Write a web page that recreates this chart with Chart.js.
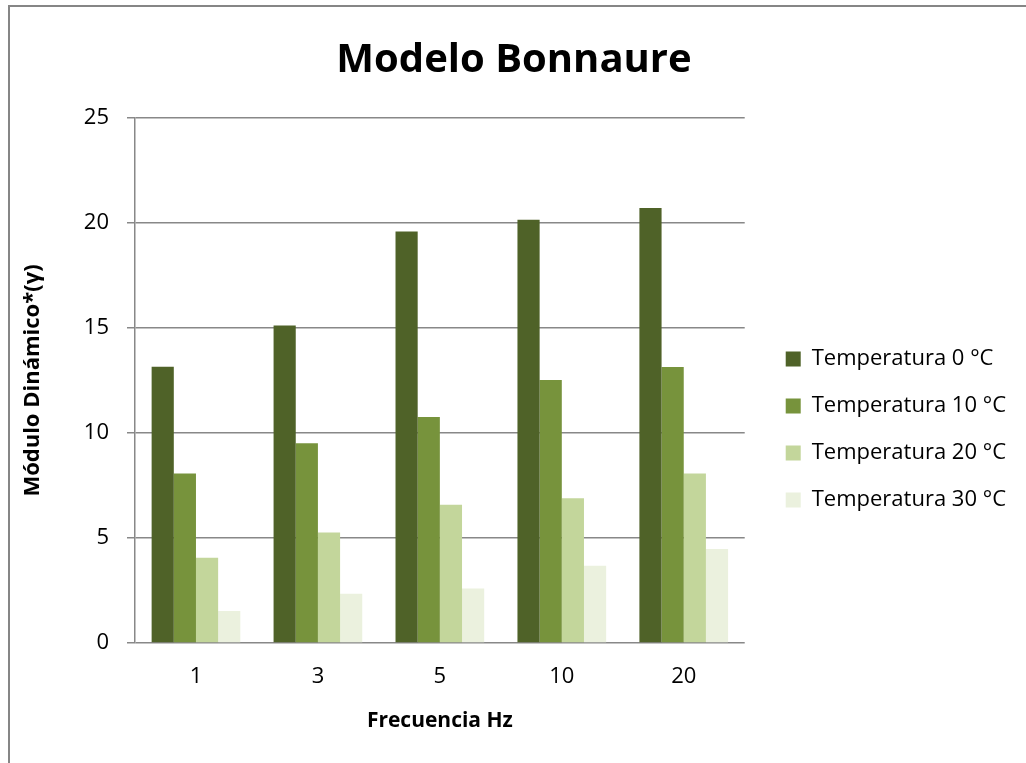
<!DOCTYPE html>
<html lang="es">
<head>
    <meta charset="UTF-8">
    <title>Modelo Bonnaure</title>
    <script src="https://cdn.jsdelivr.net/npm/chart.js"></script>
    <style>
        body { margin: 0; background: #fff; }
        canvas { display: block; }
    </style>
</head>
<body>
    <canvas id="grafico" width="1026" height="763"></canvas>

    <script>
        // datos
        const frecuencias = ['1', '3', '5', '10', '20'];
        const temp0 = [13.15, 15.12, 19.59, 20.16, 20.71];
        const temp10 = [8.07, 9.51, 10.76, 12.52, 13.14];
        const temp20 = [4.06, 5.26, 6.58, 6.89, 8.07];
        const temp30 = [1.52, 2.35, 2.6, 3.68, 4.48];
        const nombres = ['Temperatura 0 °C', 'Temperatura 10 °C', 'Temperatura 20 °C', 'Temperatura 30 °C'];
        const colores = ['#4F6228', '#77933C', '#C3D69B', '#EBF1DE'];
        const ticksY = [0, 5, 10, 15, 20, 25];

        const fuente = '"Open Sans", Lato, sans-serif';

        // marco gris del gráfico (solo arriba e izquierda se ven)
        const marco = {
            id: 'marco',
            beforeDraw(chart) {
                const c = chart.ctx;
                c.save();
                c.fillStyle = '#fff';
                c.fillRect(0, 0, chart.width, chart.height);
                c.strokeStyle = '#868686';
                c.lineWidth = 2;
                c.beginPath();
                c.moveTo(9, chart.height);
                c.lineTo(9, 6);
                c.lineTo(chart.width, 6);
                c.stroke();
                c.restore();
            }
        };

        const series = [temp0, temp10, temp20, temp30];

        new Chart(document.getElementById('grafico'), {
            type: 'bar',
            data: {
                labels: frecuencias,
                datasets: series.map((d, i) => ({
                    label: nombres[i],
                    data: d,
                    backgroundColor: colores[i],
                    borderWidth: 0,
                    categoryPercentage: 4 / 5.5,
                    barPercentage: 1
                }))
            },
            options: {
                responsive: false,
                animation: false,
                layout: { padding: { left: 12, right: 10, top: 0, bottom: 0 } },
                plugins: {
                    title: {
                        display: true,
                        text: 'Modelo Bonnaure',
                        color: '#000',
                        font: { family: fuente, size: 40, weight: 'bold' },
                        padding: { top: 37, bottom: 33 }
                    },
                    legend: {
                        position: 'right',
                        maxWidth: 400,
                        title: { display: true, text: ' ', font: { size: 10 }, padding: { top: 84, bottom: 0 } },
                        labels: {
                            boxWidth: 15,
                            boxHeight: 15,
                            padding: 25,
                            color: '#000',
                            font: { family: fuente, size: 22 }
                        }
                    },
                    tooltip: { enabled: false }
                },
                scales: {
                    x: {
                        afterFit: s => { s.height = 120; },
                        grid: { display: false, drawTicks: false },
                        border: { display: false },
                        ticks: { color: '#000', padding: 21, font: { family: fuente, size: 22 } },
                        title: {
                            display: true,
                            text: 'Frecuencia Hz',
                            color: '#000',
                            font: { family: fuente, size: 21, weight: 'bold' },
                            padding: { top: 0, bottom: 29 }
                        }
                    },
                    y: {
                        min: 0,
                        max: 25,
                        afterBuildTicks: s => { s.ticks = ticksY.map(v => ({ value: v })); },
                        afterFit: s => { s.width = 123; },
                        grid: { color: '#888', lineWidth: 1.5, tickLength: 8 },
                        border: { color: '#888', width: 1.5 },
                        ticks: { color: '#000', padding: 18, font: { family: fuente, size: 22 } },
                        title: {
                            display: true,
                            text: 'Módulo Dinámico*(γ)',
                            color: '#000',
                            font: { family: fuente, size: 22, weight: 'bold' },
                            padding: { top: 8, bottom: 10 }
                        }
                    },
                    y2: {
                        position: 'right',
                        display: true,
                        afterFit: s => { s.width = 16; },
                        grid: { display: false, drawTicks: false },
                        border: { display: false },
                        ticks: { display: false }
                    }
                }
            },
            plugins: [marco]
        });
    </script>
</body>
</html>
